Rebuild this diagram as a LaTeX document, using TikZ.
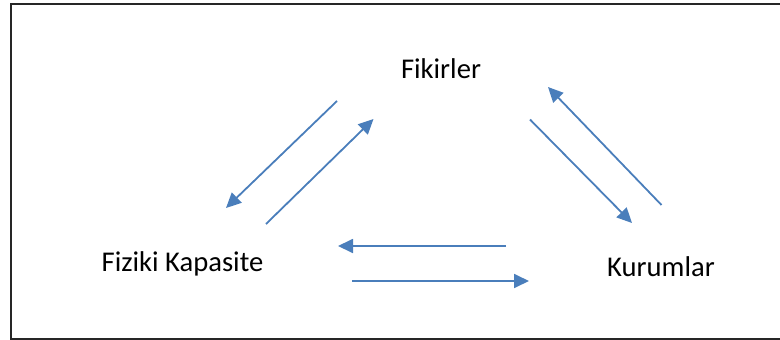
\documentclass[tikz,border=0pt]{standalone}
\usepackage{fontspec}
\setmainfont{Carlito}
\usetikzlibrary{arrows.meta}
\definecolor{arrowblue}{RGB}{74,126,187}
\tikzset{
  label/.style={anchor=base, inner sep=0pt, font=\fontsize{28.6}{34}\selectfont, text=black},
  flow/.style={draw=arrowblue, line width=1.8pt, -{Triangle[length=15pt,width=14pt]}}
}
\begin{document}
\begin{tikzpicture}[x=1pt,y=-1pt]
  \useasboundingbox (0,0) rectangle (780,340);
  % outer frame, running off the right edge
  \draw[line width=2pt, black!85] (790,3.5) -- (10.5,3.5) -- (10.5,338.5) -- (790,338.5);

  % labels
  \node[label] (fik) at (441,78) {Fikirler};
  \node[label] (fiz) at (182.5,271) {Fiziki Kapasite};
  \node[label] (kur) at (661,276) {Kurumlar};

  % arrow end points
  \coordinate (a1s) at (337,101);
  \coordinate (a1e) at (226,208);
  \coordinate (a2s) at (266,224);
  \coordinate (a2e) at (373.5,119);
  \coordinate (a3s) at (506,246);
  \coordinate (a3e) at (338,246);
  \coordinate (a4s) at (352,281);
  \coordinate (a4e) at (529,281);
  \coordinate (a5s) at (530,119.5);
  \coordinate (a5e) at (632,223);
  \coordinate (a6s) at (661.5,205);
  \coordinate (a6e) at (548,87);

  % flows between the three elements
  \draw[flow] (a1s) -- (a1e);
  \draw[flow] (a2s) -- (a2e);
  \draw[flow] (a3s) -- (a3e);
  \draw[flow] (a4s) -- (a4e);
  \draw[flow] (a5s) -- (a5e);
  \draw[flow] (a6s) -- (a6e);
\end{tikzpicture}
\end{document}
